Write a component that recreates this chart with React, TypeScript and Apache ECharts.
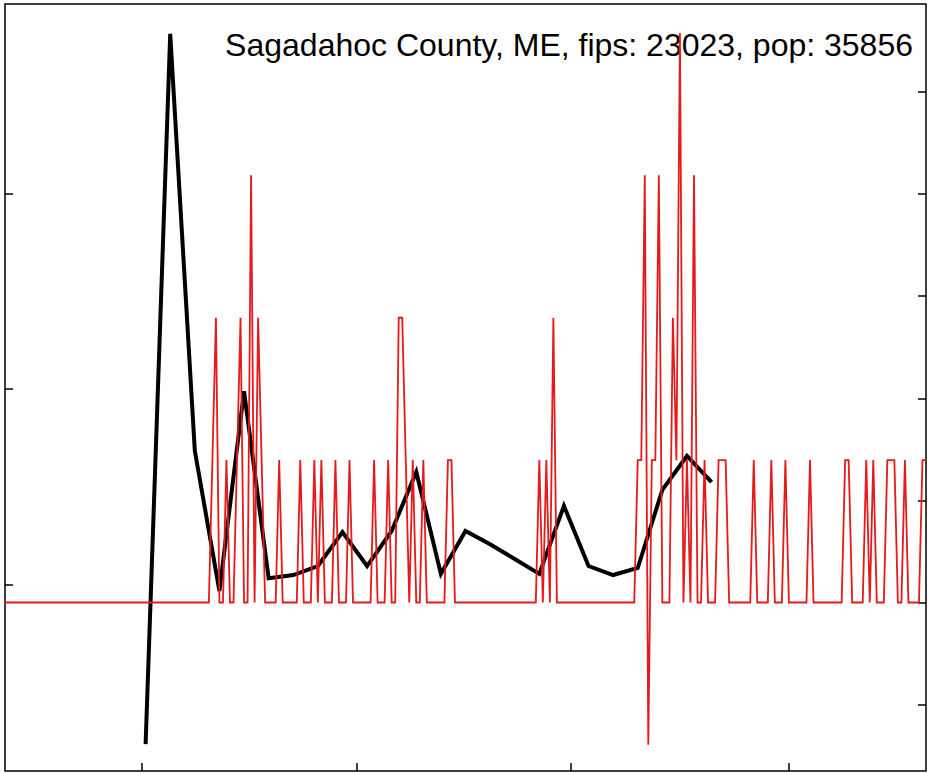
import React, { useEffect, useRef } from "react";
import * as echarts from "echarts";

// ---- data ----
const COUNTY = "Sagadahoc County, ME";
const FIPS = "23023";
const POP = 35856;

const START_DATE = "2020-01-22"; // first day of the daily series

// daily new cases (counts), one value per day from START_DATE
const dailyCases: number[] = [
  0, 0, 0, 0, 0, 0, 0, 0, 0, 0, 0, 0, 0, 0, 0, 0, 0, 0, 0, 0,
  0, 0, 0, 0, 0, 0, 0, 0, 0, 0, 0, 0, 0, 0, 0, 0, 0, 0, 0, 0,
  0, 0, 0, 0, 0, 0, 0, 0, 0, 0, 0, 0, 0, 0, 0, 0, 0, 0, 0, 1,
  2, 0, 0, 1, 0, 0, 1, 2, 0, 0, 3, 0, 2, 1, 0, 0, 0, 0, 1, 0,
  0, 0, 0, 0, 1, 0, 0, 0, 1, 0, 1, 0, 0, 0, 1, 0, 0, 0, 1, 0,
  0, 0, 0, 0, 0, 1, 0, 0, 0, 1, 0, 0, 2, 2, 1, 0, 1, 0, 0, 1,
  0, 0, 0, 0, 0, 0, 1, 1, 0, 0, 0, 0, 0, 0, 0, 0, 0, 0, 0, 0,
  0, 0, 0, 0, 0, 0, 0, 0, 0, 0, 0, 0, 1, 0, 1, 0, 2, 0, 0, 0,
  0, 0, 0, 0, 0, 0, 0, 0, 0, 0, 0, 0, 0, 0, 0, 0, 0, 0, 0, 0,
  1, 1, 3, -1, 1, 1, 3, 0, 0, 0, 2, 1, 4, 0, 1, 0, 3, 0, 0, 1,
  0, 0, 0, 1, 1, 1, 0, 0, 0, 0, 0, 0, 0, 1, 0, 0, 0, 0, 1, 0,
  0, 0, 1, 0, 0, 0, 0, 0, 0, 1, 0, 0, 0, 0, 0, 0, 0, 0, 0, 1,
  1, 0, 0, 0, 0, 1, 0, 1, 0, 0, 0, 1, 1, 1, 0, 0, 1, 0, 0, 0,
  0, 1, 1,
];

// weekly series (left axis), one value per week
const WEEKLY_START = "2020-03-02";
const weeklyValues: number[] = [
  -4.09, 14.1, 3.42, -0.17, 4.95, 0.16, 0.24, 0.47, 1.34, 0.47, 1.37, 2.88,
  0.27, 1.37, 1.03, 0.65, 0.27, 2.01, 0.47, 0.24, 0.42, 2.42, 3.29, 2.62,
];

// bottom axis tick dates
const xTickDates: string[] = ["2020-03-01", "2020-05-01", "2020-07-01", "2020-09-01"];
const leftTicks: number[] = [0, 5, 10];
const rightTicks: number[] = [-2, 0, 2, 4, 6, 8, 10];

// ---- helpers ----
function addDays(iso: string, n: number): string {
  const d = new Date(iso + "T00:00:00Z");
  d.setUTCDate(d.getUTCDate() + n);
  return d.toISOString().slice(0, 10);
}

const categories: string[] = dailyCases.map((_, i) => addDays(START_DATE, i));
const dailyPer100k: number[] = dailyCases.map((c) => (c * 100000) / POP);
const weeklyDates: string[] = weeklyValues.map((_, i) => addDays(WEEKLY_START, i * 7));
const weeklyMap: Record<string, number> = {};
weeklyDates.forEach((d, i) => (weeklyMap[d] = weeklyValues[i]));
const weeklyFull: (number | null)[] = categories.map((d) =>
  d in weeklyMap ? weeklyMap[d] : null
);

export default function App() {
  const ref = useRef<HTMLDivElement>(null);
  useEffect(() => {
    if (!ref.current) return;
    const chart = echarts.init(ref.current, null, { renderer: "svg" });
    const tickStyle = { show: true, inside: true, length: 8, lineStyle: { color: "#000", width: 1.5 } };
    chart.setOption({
      animation: false,
      backgroundColor: "#fff",
      grid: {
        left: 5,
        right: 2,
        top: 4,
        bottom: 3,
        show: true,
        borderColor: "#000",
        borderWidth: 1.5,
        backgroundColor: "transparent",
      },
      xAxis: {
        type: "category",
        data: categories,
        boundaryGap: false,
        position: "bottom",
        axisLine: { show: false, onZero: false },
        axisLabel: { show: false },
        splitLine: { show: false },
        axisTick: {
          ...tickStyle,
          interval: (_i: number, v: string) => xTickDates.includes(v),
        },
      },
      yAxis: [
        {
          type: "value",
          position: "left",
          min: -4.78,
          max: 14.867,
          axisLine: { show: false, onZero: false },
          axisLabel: { show: false },
          splitLine: { show: false },
          axisTick: { ...tickStyle, customValues: leftTicks },
        },
        {
          type: "value",
          position: "right",
          min: -3.301,
          max: 11.724,
          axisLine: { show: false, onZero: false },
          axisLabel: { show: false },
          splitLine: { show: false },
          axisTick: { ...tickStyle, customValues: rightTicks },
        },
      ],
      graphic: [
        {
          type: "text",
          z: 0,
          x: 913,
          y: 44.5,
          style: {
            text: `${COUNTY}, fips: ${FIPS}, pop: ${POP}`,
            fontSize: 32,
            fontFamily: "Liberation Sans, Arial, Helvetica, sans-serif",
            fill: "#000",
            align: "right",
            verticalAlign: "middle",
          },
        },
      ],
      series: [
        {
          type: "line",
          name: "weekly",
          yAxisIndex: 0,
          data: weeklyFull,
          connectNulls: true,
          symbol: "none",
          z: 2,
          lineStyle: { color: "#000", width: 4, join: "miter" },
        },
        {
          type: "line",
          name: "daily",
          yAxisIndex: 1,
          data: dailyPer100k,
          symbol: "none",
          z: 3,
          lineStyle: { color: "#E41A1C", width: 1.8, join: "miter" },
        },
      ],
    });
    return () => chart.dispose();
  }, []);
  return (
    <div
      ref={ref}
      style={{ position: "fixed", left: 0, top: 0, width: 928, height: 774, background: "#fff" }}
    />
  );
}
